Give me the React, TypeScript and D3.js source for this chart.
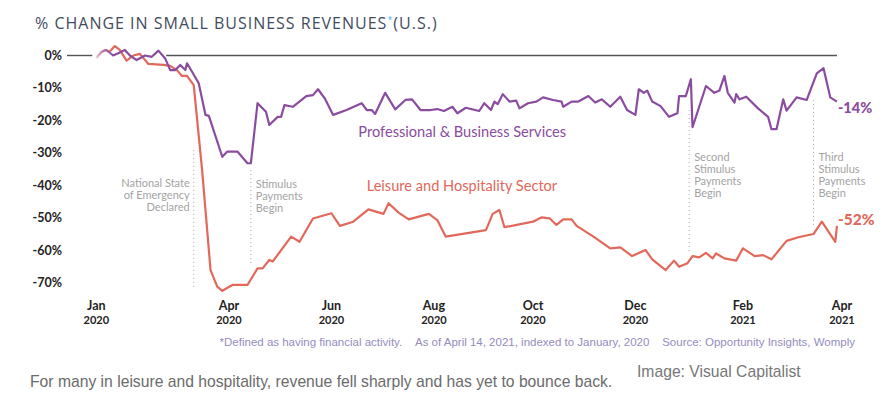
import React from "react";
import * as d3 from "d3";

// days counted from Jan 1, 2020
const proDays = [12, 15, 18, 22, 25, 29, 32, 36, 41, 45, 49, 53, 56, 59, 62, 65, 66, 69, 73, 77, 79, 87, 90, 96, 102, 104, 108, 113, 115, 120, 122, 124, 129, 137, 141, 144, 148, 153, 161, 170, 173, 176, 178, 184, 190, 196, 200, 205, 211, 215, 219, 224, 227, 232, 240, 243, 247, 249, 251, 254, 258, 262, 264, 269, 274, 278, 284, 289, 290, 295, 299, 305, 309, 313, 318, 324, 328, 333, 335, 338, 340, 343, 348, 353, 358, 359, 363, 366, 367, 375, 380, 383, 386, 388, 392, 393, 395, 399, 406, 412, 414, 417, 421, 423, 429, 435, 441, 445, 449, 453];
const proValues = [-0.9, 1.2, 1.7, 0, 0.7, 1.7, 0, -1.4, 0, -0.4, 1.5, -0.9, -4.5, -4.5, -2.9, -4.5, -2.4, -5, -8.6, -18.3, -18.6, -31.2, -29.6, -29.6, -33.2, -33.2, -14.7, -17.3, -21.4, -18.9, -18.9, -15.3, -15.8, -12.5, -12.2, -10.4, -13.2, -18.3, -16.8, -14.7, -16.8, -16.8, -18, -11.5, -16.6, -13.7, -13.5, -16.8, -16.8, -16.5, -17.1, -15.8, -17.8, -16.1, -17.1, -14.7, -16.8, -14.2, -15, -11.9, -14.2, -13.9, -16.3, -14.7, -14.2, -12.9, -13.7, -14.2, -15.8, -14.2, -14.2, -12.5, -14.5, -13.5, -15.8, -12.7, -16.8, -18.3, -10.4, -11.5, -10.8, -14.2, -15.6, -18.9, -17.8, -12.5, -12.5, -7.3, -22.1, -9.4, -11.5, -10.8, -6.3, -11.5, -14.5, -11.9, -13.5, -12.7, -16.3, -18.9, -22.7, -22.7, -13.5, -17, -12.9, -13.7, -5.5, -3.9, -12.9, -14.2];

const leisureDays = [12, 17, 20, 23, 26, 30, 34, 38, 43, 52, 56, 60, 63, 66, 70, 75, 80, 84, 87, 93, 102, 108, 111, 115, 117, 128, 133, 141, 152, 157, 165, 174, 183, 186, 192, 198, 210, 215, 220, 244, 248, 252, 255, 272, 277, 282, 286, 290, 295, 298, 308, 318, 324, 331, 339, 343, 351, 356, 359, 364, 367, 371, 375, 379, 381, 386, 393, 397, 404, 409, 414, 423, 430, 439, 444, 452, 453];
const leisureValues = [-0.4, 1.7, 1.2, 2.9, 1.7, -1.6, 0, 0.5, -2.6, -2.9, -3.2, -4.5, -6.3, -6.3, -9.1, -35.3, -66.1, -71.2, -72.5, -70.7, -70.7, -65.6, -65.6, -63, -63.5, -55.8, -57.4, -50.2, -48.6, -52.5, -51.2, -47.4, -48.8, -45.5, -48.4, -50.5, -48.8, -50.7, -55.8, -53.8, -48.8, -47.6, -52.9, -51.2, -49.9, -50.2, -52.2, -50.5, -50.5, -52.5, -55.8, -59.4, -59.1, -61.8, -59.9, -62.8, -66.1, -63.2, -65.1, -64, -61.8, -62.2, -60.8, -62.5, -61, -62.5, -63.2, -59.4, -61.8, -61.5, -62.8, -57.1, -56, -55, -51.2, -57.4, -52.5];

const yTicks = [0, -10, -20, -30, -40, -50, -60, -70];
const tickDays = [12, 91, 152, 213, 272, 333, 397, 456];
const tickMonths = ["Jan", "Apr", "Jun", "Aug", "Oct", "Dec", "Feb", "Apr"];
const tickYears = ["2020", "2020", "2020", "2020", "2020", "2020", "2021", "2021"];

const eventDays = [70, 104, 365, 439];
const eventTops = [-29.1, -35.3, -16.8, -13.7];
const eventBottoms = [-71.6, -64.5, -60.9, -52.2];
const eventLabelLevels = [-40.5, -40.8, -32.5, -32.5];
const eventLabels = [
  ["National State", "of Emergency", "Declared"],
  ["Stimulus", "Payments", "Begin"],
  ["Second", "Stimulus", "Payments", "Begin"],
  ["Third", "Stimulus", "Payments", "Begin"],
];

const PURPLE = "#8a4c9e";
const RED = "#e1685a";

const toDate = (d: number) => new Date(2020, 0, 1 + d);

const App = () => {
  const width = 884;
  const height = 398;

  const x = d3.scaleTime().domain([toDate(91), toDate(456)]).range([229, 842]);
  const y = d3.scaleLinear().domain([0, -70]).range([55.5, 282.7]);

  const line = d3
    .line<[number, number]>()
    .x((d) => x(toDate(d[0])))
    .y((d) => y(d[1]));

  const proPath = line(proDays.map((d, i) => [d, proValues[i]]));
  const leisurePath = line(leisureDays.map((d, i) => [d, leisureValues[i]]));

  const x0 = x(toDate(proDays[0]));
  const xEnd = x(toDate(proDays[proDays.length - 1]));

  return (
    <div style={{ position: "fixed", left: 0, top: 0, background: "#fff" }}>
      <svg width={width} height={height} style={{ display: "block" }}>
        <defs>
          <linearGradient id="fadePro" gradientUnits="userSpaceOnUse" x1={x0} x2={x0 + 16} y1={0} y2={0}>
            <stop offset="0" stopColor={PURPLE} stopOpacity={0.2} />
            <stop offset="1" stopColor={PURPLE} stopOpacity={1} />
          </linearGradient>
          <linearGradient id="fadeLeisure" gradientUnits="userSpaceOnUse" x1={x0} x2={x0 + 16} y1={0} y2={0}>
            <stop offset="0" stopColor={RED} stopOpacity={0.2} />
            <stop offset="1" stopColor={RED} stopOpacity={1} />
          </linearGradient>
        </defs>

        {/* title */}
        <text x={35} y={29} fontFamily="Open Sans" fontSize={16} fill="#3f4b5d" letterSpacing={1}>
          % CHANGE IN SMALL BUSINESS REVENUES
          <tspan fill="#4fb8e0" fontSize={9} dy={-6}>*</tspan>
          <tspan dy={6}>(U.S.)</tspan>
        </text>

        {/* y labels */}
        {yTicks.map((t) => (
          <text key={t} x={62} y={y(t) + 4.5} textAnchor="end" fontFamily="Lato" fontWeight={700} fontSize={12.5} fill="#222">
            {`${t}%`}
          </text>
        ))}

        {/* zero line, broken where the series sit on it */}
        <line x1={67} x2={x0 - 4} y1={y(0)} y2={y(0)} stroke="#555" strokeWidth={1.4} />
        <line x1={x(toDate(proDays[11])) + 1} x2={xEnd} y1={y(0)} y2={y(0)} stroke="#555" strokeWidth={1.4} />

        {/* event markers */}
        {eventDays.map((d, i) => {
          const ex = x(toDate(d));
          const left = i === 0;
          return (
            <g key={d}>
              <line x1={ex} x2={ex} y1={y(eventTops[i])} y2={y(eventBottoms[i])} stroke="#aaa" strokeWidth={1} strokeDasharray="1,3" />
              {eventLabels[i].map((s, j) => (
                <text
                  key={s}
                  x={left ? ex - 4 : ex + 5}
                  y={y(eventLabelLevels[i]) + j * 12}
                  textAnchor={left ? "end" : "start"}
                  fontFamily="Lato"
                  fontSize={11}
                  fill="#a3a3a3"
                >
                  {s}
                </text>
              ))}
            </g>
          );
        })}

        {/* series */}
        <path d={leisurePath ?? ""} fill="none" stroke="url(#fadeLeisure)" strokeWidth={2.2} strokeLinejoin="round" />
        <path d={proPath ?? ""} fill="none" stroke="url(#fadePro)" strokeWidth={2.2} strokeLinejoin="round" />

        {/* series labels */}
        <text x={x(toDate(168.4))} y={y(-25.1)} fontFamily="Lato" fontSize={14.6} fill={PURPLE}>
          Professional &amp; Business Services
        </text>
        <text x={x(toDate(173.8))} y={y(-41.7)} fontFamily="Lato" fontSize={14.6} fill={RED}>
          Leisure and Hospitality Sector
        </text>

        {/* end values */}
        <text x={xEnd + 1} y={y(proValues[proValues.length - 1]) + 11} fontFamily="Lato" fontWeight={900} fontSize={14.5} fill={PURPLE}>
          -14%
        </text>
        <text x={xEnd + 1} y={y(leisureValues[leisureValues.length - 1]) - 1} fontFamily="Lato" fontWeight={900} fontSize={15.5} fill={RED}>
          -52%
        </text>

        {/* x labels */}
        {tickDays.map((d, i) => (
          <g key={i} transform={`translate(${x(toDate(d))},0)`}>
            <text y={310} textAnchor="middle" fontFamily="Lato" fontWeight={700} fontSize={12.5} fill="#222">
              {tickMonths[i]}
            </text>
            <text y={324} textAnchor="middle" fontFamily="Lato" fontWeight={700} fontSize={11} fill="#222">
              {tickYears[i]}
            </text>
          </g>
        ))}

        {/* footnote */}
        <text x={855} y={346} textAnchor="end" fontFamily="Liberation Sans" fontSize={11.5} fill="#958cc0">
          *Defined as having financial activity.{"\u00a0\u00a0\u00a0\u00a0"}As of April 14, 2021, indexed to January, 2020{"\u00a0\u00a0\u00a0\u00a0"}Source: Opportunity Insights, Womply
        </text>

        {/* caption */}
        <text x={30} y={387} fontFamily="Liberation Sans" fontSize={15.7} fill="#6b6b6b">
          For many in leisure and hospitality, revenue fell sharply and has yet to bounce back.
        </text>
        <text x={637} y={377} fontFamily="Liberation Sans" fontSize={15.7} fill="#777">
          Image: Visual Capitalist
        </text>
      </svg>
    </div>
  );
};

export default App;
